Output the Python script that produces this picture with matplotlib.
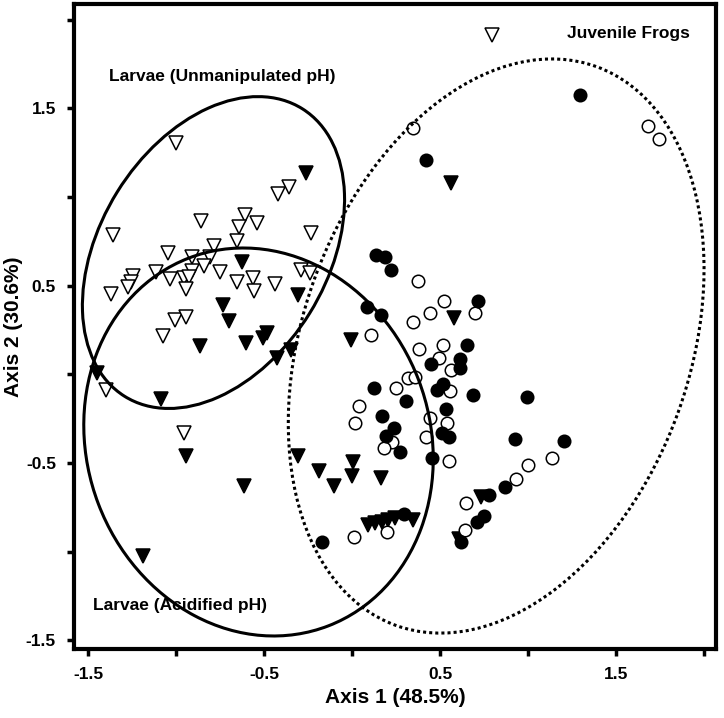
import matplotlib
matplotlib.use('Agg')
import matplotlib.pyplot as plt
from matplotlib.patches import Ellipse

plt.rcParams['font.family'] = ['Liberation Sans', 'DejaVu Sans']
plt.rcParams['font.weight'] = 'bold'

# open triangles - larvae, unmanipulated pH
unmanip_x = [-1.003, -0.358, -0.424, -1.362, -0.860, -0.611, -0.543, -0.645, -0.236, -0.653,
             -0.784, -1.045, -0.911, -0.808, -0.841, -1.114, -0.911, -0.752, -0.291, -0.240,
             -1.244, -1.036, -0.956, -0.930, -1.259, -1.273, -0.657, -0.562, -0.437, -1.373,
             -0.945, -0.558, -1.007, -0.945, -1.074, -1.400, -0.958, 0.795]
unmanip_y = [1.303, 1.055, 1.017, 0.786, 0.866, 0.899, 0.852, 0.829, 0.799, 0.754,
             0.724, 0.683, 0.663, 0.663, 0.613, 0.579, 0.585, 0.579, 0.588, 0.573,
             0.556, 0.538, 0.542, 0.551, 0.523, 0.494, 0.523, 0.542, 0.510, 0.453,
             0.480, 0.472, 0.307, 0.325, 0.216, -0.088, -0.329, 1.913]

# filled triangles - larvae, acidified pH
acid_x = [-0.263, -0.625, -0.306, -0.733, -0.702, -0.486, -0.507, -0.865, -0.604, -0.350,
          -0.429, -1.449, -1.087, -0.945, -0.306, -0.189, -0.009, 0.579, 0.560, 0.003,
          -0.003, -0.103, 0.164, 0.092, 0.130, 0.168, 0.205, 0.243, 0.347, 0.731,
          -1.189, -0.615, 0.607]
acid_y = [1.137, 0.635, 0.448, 0.391, 0.303, 0.232, 0.205, 0.160, 0.179, 0.138,
          0.094, 0.006, -0.137, -0.458, -0.458, -0.542, 0.194, 0.316, 1.081, -0.492,
          -0.573, -0.629, -0.586, -0.849, -0.839, -0.830, -0.821, -0.811, -0.821, -0.689,
          -1.024, -0.629, -0.928]

# open circles - juvenile frogs
frog_open_x = [0.347, 1.680, 1.744, 0.372, 0.524, 0.442, 0.698, 0.344, 0.105, 0.378,
               0.514, 0.493, 0.560, 0.319, 0.357, 0.247, 0.556, 0.039, 0.016, 0.442,
               0.539, 0.228, 0.181, 0.418, 0.550, 1.001, 1.134, 0.930, 0.645, 0.641,
               0.200, 0.012]
frog_open_y = [1.387, 1.402, 1.325, 0.528, 0.415, 0.348, 0.348, 0.297, 0.222, 0.145,
               0.164, 0.091, 0.025, -0.022, -0.013, -0.075, -0.092, -0.176, -0.272, -0.243,
               -0.276, -0.379, -0.417, -0.355, -0.486, -0.511, -0.473, -0.591, -0.727, -0.877,
               -0.887, -0.915]

# filled circles - juvenile frogs
frog_fill_x = [1.295, 0.420, 0.135, 0.186, 0.219, 0.713, 0.086, 0.164, 0.654, 0.446,
               0.613, 0.613, 0.124, 0.518, 0.484, 0.685, 0.306, 0.532, 0.171, 0.239,
               0.192, 0.272, 0.509, 0.550, 0.452, 0.992, 0.927, 1.202, 0.869, 0.778,
               0.751, 0.708, 0.619, 0.294, -0.170]
frog_fill_y = [1.575, 1.209, 0.673, 0.663, 0.589, 0.415, 0.382, 0.335, 0.164, 0.059,
               0.085, 0.034, -0.075, -0.054, -0.088, -0.116, -0.148, -0.195, -0.233, -0.302,
               -0.347, -0.439, -0.332, -0.355, -0.473, -0.129, -0.366, -0.374, -0.633, -0.680,
               -0.798, -0.830, -0.943, -0.787, -0.943]

# group ellipses: centre, width, height, angle
groups = ['Larvae (Unmanipulated pH)', 'Larvae (Acidified pH)', 'Juvenile Frogs']
ell_centers = [(-0.789, 0.687), (-0.533, -0.381), (0.818, 0.160)]
ell_sizes = [(1.91, 1.29), (2.22, 1.95), (3.35, 2.20)]
ell_angles = [58, 111, 70]
ell_styles = ['-', '-', (0, (1, 1))]
label_pos = [(-0.740, 1.677), (-0.979, -1.300), (1.568, 1.924)]

ticks = [-1.5, -1.0, -0.5, 0.0, 0.5, 1.0, 1.5, 2.0]
tick_labels = ['-1.5', '', '-0.5', '', '0.5', '', '1.5', '']

fig = plt.figure(figsize=(7.24, 7.18), dpi=100)
ax = fig.add_axes([0.1022, 0.0961, 0.8868, 0.8983])

ax.plot(unmanip_x, unmanip_y, 'v', ms=10, mfc='white', mec='black', mew=1.1, ls='none', zorder=3)
ax.plot(acid_x, acid_y, 'v', ms=10, mfc='black', mec='black', mew=1.1, ls='none', zorder=3)
ax.plot(frog_open_x, frog_open_y, 'o', ms=9, mfc='white', mec='black', mew=1.1, ls='none', zorder=3)
ax.plot(frog_fill_x, frog_fill_y, 'o', ms=9, mfc='black', mec='black', mew=1.1, ls='none', zorder=3)

for c, (w, h), a, s in zip(ell_centers, ell_sizes, ell_angles, ell_styles):
    e = Ellipse(c, w, h, angle=a, fill=False, ec='black', lw=2.2, ls=s, zorder=4)
    ax.add_patch(e)

for name, (tx, ty) in zip(groups, label_pos):
    ax.text(tx, ty, name, ha='center', va='center', fontsize=12.5, fontweight='bold')

ax.set_xlim(-1.582, 2.068)
ax.set_ylim(-1.548, 2.088)
ax.set_xticks(ticks)
ax.set_xticklabels(tick_labels)
ax.set_yticks(ticks)
ax.set_yticklabels(tick_labels)
ax.tick_params(direction='out', length=5, width=2.5, labelsize=12.5, pad=8)
for lab in ax.get_xticklabels() + ax.get_yticklabels():
    lab.set_fontweight('bold')
for sp in ax.spines.values():
    sp.set_linewidth(3)

ax.set_xlabel('Axis 1 (48.5%)', fontsize=15, fontweight='bold', labelpad=4)
ax.set_ylabel('Axis 2 (30.6%)', fontsize=15, fontweight='bold', labelpad=2)

fig.savefig('out.png', dpi=100)
